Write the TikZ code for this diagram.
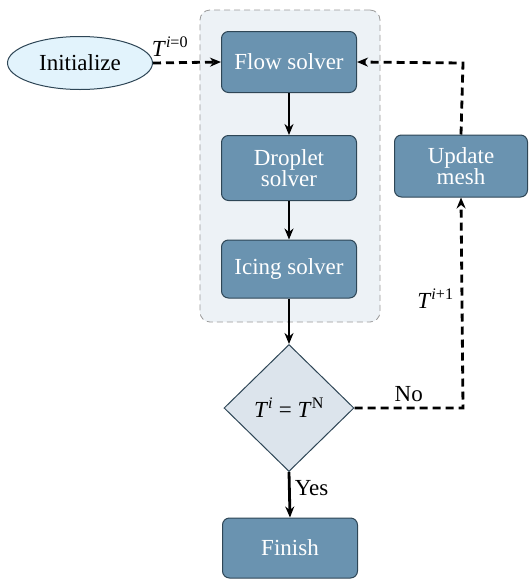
\documentclass[tikz,border=0pt]{standalone}
\usepackage{fontspec}
\setmainfont{Liberation Serif}
\usetikzlibrary{shapes.geometric,arrows.meta}
\definecolor{boxfill}{HTML}{6A93B0}
\definecolor{boxline}{HTML}{2E4656}
\definecolor{ellfill}{HTML}{E2F3FC}
\definecolor{diafill}{HTML}{DCE4EC}
\definecolor{grpfill}{HTML}{EDF2F6}
\definecolor{grpline}{HTML}{9A9A9A}
\newcommand\Tsup[1]{\textit{T}\textsuperscript{#1}}
\tikzset{
  every node/.style={font=\rmfamily\fontsize{23}{25}\selectfont},
  stepbox/.style={draw=boxline, line width=1pt, fill=boxfill, rounded corners=7pt,
    text=white, minimum width=135pt, minimum height=61pt, align=center, inner sep=2pt},
  flowarrow/.style={line width=2.8pt, -{Stealth[length=11pt,width=9pt]}},
  dasharrow/.style={line width=2.8pt, dash pattern=on 8pt off 5pt, -{Stealth[length=11pt,width=9pt]}},
  lbl/.style={inner sep=1pt}
}
\begin{document}
\begin{tikzpicture}[x=1pt,y=-1pt]
\useasboundingbox (0,0) rectangle (530,579);
\node[draw=grpline, dash pattern=on 6pt off 4pt, line width=0.8pt, fill=grpfill, rounded corners=10pt,
  minimum width=180pt, minimum height=312pt, inner sep=0] (grp) at (290,166) {};
\node[ellipse, draw=boxline, line width=1pt, fill=ellfill, minimum width=145pt, minimum height=53pt, inner sep=0] (init) at (80,63) {Initialize};
\node[stepbox] (flow) at (289,62) {Flow solver};
\node[stepbox, minimum height=65pt] (drop) at (289,168) {Droplet\\[-4pt]solver};
\node[stepbox, minimum height=58pt] (icing) at (289,269) {Icing solver};
\node[diamond, draw=boxline, line width=1pt, fill=diafill, minimum width=130pt, minimum height=127pt, inner sep=0] (dec) at (289,408) {\Tsup{\textit{i}} = \Tsup{N}};
\node[stepbox, minimum height=60pt] (fin) at (290,548) {Finish};
\node[stepbox, minimum width=133pt, minimum height=62pt] (upd) at (461,166) {Update\\[-4pt]mesh};
\coordinate (c1) at (463,408);
\coordinate (c2) at (463,63);
\draw[dasharrow] (init.east) -- node[lbl, pos=0.25, above, yshift=4pt] {\Tsup{\textit{i}=0}} (flow.west);
\draw[flowarrow] (flow.south) -- (drop.north);
\draw[flowarrow] (drop.south) -- (icing.north);
\draw[flowarrow] (icing.south) -- (dec.north);
\draw[flowarrow] (dec.south) -- node[lbl, right, xshift=3pt, pos=0.35] {Yes} (fin.north);
\draw[dasharrow] (dec.east) -- node[lbl, above, pos=0.5, yshift=4pt] {No} (c1) -- node[lbl, left, pos=0.52, xshift=-6pt] {\Tsup{\textit{i}+1}} (upd.south);
\draw[dasharrow] (upd.north) -- (c2) -- (flow.east);
\end{tikzpicture}
\end{document}
